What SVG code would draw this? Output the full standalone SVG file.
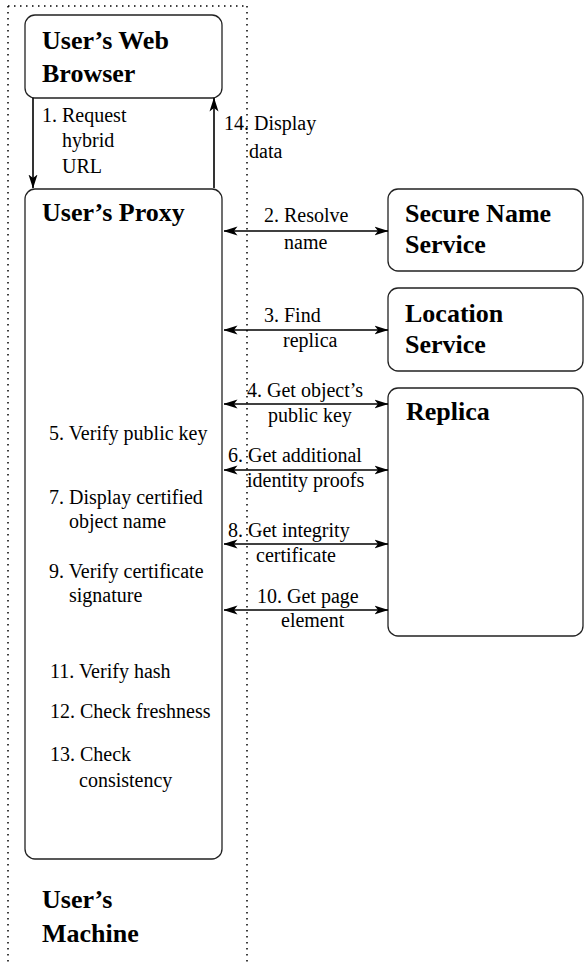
<svg xmlns="http://www.w3.org/2000/svg" width="584" height="966" viewBox="0 0 584 966">
<style>
.box{fill:#fff;stroke:#222;stroke-width:1.3}
.title{font-weight:bold;font-size:26px;fill:#000}
.lbl{font-size:20px;fill:#000}
.conn{stroke:#000;stroke-width:1.6;fill:none}
.dot{stroke:#000;stroke-width:1.5;stroke-dasharray:1.5 4.5;fill:none}
</style>
<defs>
<marker id="ah" viewBox="0 0 14 10" refX="13.5" refY="5" markerWidth="14" markerHeight="10" markerUnits="userSpaceOnUse" orient="auto-start-reverse">
<path d="M0,0.5 L14,5 L0,9.5 L3.5,5 z" fill="#000"/>
</marker>
</defs>
<rect width="584" height="966" fill="#fff"/>
<g font-family="'Liberation Serif', 'Times New Roman', Times, Tinos, 'Nimbus Roman', 'Nimbus Roman No9 L', 'Noto Serif', FreeSerif, 'DejaVu Serif', serif">
<g id="machine">
<path class="dot" d="M8,6 H247 M8,6 V966 M247,6 V966"/>
<text class="title" x="42" y="908">User’s</text>
<text class="title" x="42" y="942">Machine</text>
</g>
<g id="browser">
<rect class="box" x="25" y="15" width="197" height="83" rx="10"/>
<text class="title" x="42" y="49">User’s Web</text>
<text class="title" x="42" y="82">Browser</text>
</g>
<g id="proxy">
<rect class="box" x="25" y="189" width="197" height="670" rx="10"/>
<text class="title" x="42" y="221">User’s Proxy</text>
<text class="lbl" x="49" y="440">5. Verify public key</text>
<text class="lbl" x="49" y="504">7. Display certified</text>
<text class="lbl" x="69" y="528">object name</text>
<text class="lbl" x="49" y="578">9. Verify certificate</text>
<text class="lbl" x="69" y="602">signature</text>
<text class="lbl" x="50" y="678">11. Verify hash</text>
<text class="lbl" x="50" y="718">12. Check freshness</text>
<text class="lbl" x="50" y="761">13. Check</text>
<text class="lbl" x="79" y="787">consistency</text>
</g>
<g id="sns">
<rect class="box" x="388" y="189" width="195" height="82" rx="10"/>
<text class="title" x="405" y="222">Secure Name</text>
<text class="title" x="405" y="253">Service</text>
</g>
<g id="location">
<rect class="box" x="388" y="288" width="195" height="83" rx="10"/>
<text class="title" x="405" y="322">Location</text>
<text class="title" x="405" y="353">Service</text>
</g>
<g id="replica">
<rect class="box" x="388" y="388" width="195" height="248" rx="10"/>
<text class="title" x="406" y="420">Replica</text>
</g>
<g id="connectors">
<line class="conn" x1="33" y1="98" x2="33" y2="188" marker-end="url(#ah)"/>
<line class="conn" x1="214" y1="188" x2="214" y2="98" marker-end="url(#ah)"/>
<line class="conn" x1="224" y1="231" x2="388" y2="231" marker-start="url(#ah)" marker-end="url(#ah)"/>
<line class="conn" x1="224" y1="330" x2="388" y2="330" marker-start="url(#ah)" marker-end="url(#ah)"/>
<line class="conn" x1="224" y1="404" x2="388" y2="404" marker-start="url(#ah)" marker-end="url(#ah)"/>
<line class="conn" x1="224" y1="470" x2="388" y2="470" marker-start="url(#ah)" marker-end="url(#ah)"/>
<line class="conn" x1="224" y1="544" x2="388" y2="544" marker-start="url(#ah)" marker-end="url(#ah)"/>
<line class="conn" x1="224" y1="610" x2="388" y2="610" marker-start="url(#ah)" marker-end="url(#ah)"/>
<text class="lbl" x="42" y="122">1. Request</text>
<text class="lbl" x="62" y="147">hybrid</text>
<text class="lbl" x="62" y="173">URL</text>
<text class="lbl" x="224" y="130">14. Display</text>
<text class="lbl" x="249" y="158">data</text>
<text class="lbl" x="264" y="222">2. Resolve</text>
<text class="lbl" x="284" y="249">name</text>
<text class="lbl" x="264" y="322">3. Find</text>
<text class="lbl" x="283" y="347">replica</text>
<text class="lbl" x="247" y="397">4. Get object’s</text>
<text class="lbl" x="268" y="422">public key</text>
<text class="lbl" x="228" y="462">6. Get additional</text>
<text class="lbl" x="247" y="487">identity proofs</text>
<text class="lbl" x="228" y="537">8. Get integrity</text>
<text class="lbl" x="256" y="562">certificate</text>
<text class="lbl" x="257" y="603">10. Get page</text>
<text class="lbl" x="281" y="627">element</text>
</g>
</g>
</svg>
